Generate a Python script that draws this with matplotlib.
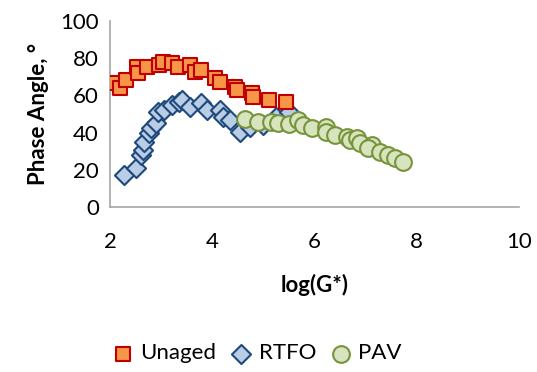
import matplotlib.pyplot as plt

# Unaged binder
unaged_x = [2.12, 2.19, 2.32, 2.53, 2.54, 2.73, 2.96, 3.03, 3.22, 3.32, 3.57,
            3.67, 3.77, 4.06, 4.15, 4.44, 4.48, 4.77, 4.80, 5.12, 5.44]
unaged_y = [66.5, 63.8, 68.3, 75.4, 71.9, 75.4, 76.3, 78.1, 77.3, 75.4, 76.3,
            72.7, 73.7, 69.2, 67.4, 64.7, 62.9, 61.1, 59.3, 57.5, 56.6]

# RTFO aged
rtfo_x = [2.28, 2.51, 2.61, 2.64, 2.67, 2.77, 2.80, 2.90, 2.93, 3.06, 3.22, 3.35,
          3.41, 3.57, 3.77, 3.90, 4.15, 4.22, 4.35, 4.54, 4.73, 4.99, 5.25, 5.51]
rtfo_y = [17.2, 20.8, 28.0, 30.6, 35.1, 39.6, 42.3, 45.0, 51.2, 52.2, 54.8, 56.6,
          57.5, 53.9, 55.8, 52.2, 52.2, 48.5, 46.8, 40.5, 43.2, 44.1, 48.5, 51.2]

# PAV aged
pav_x = [4.64, 4.90, 5.15, 5.28, 5.51, 5.67, 5.77, 5.96, 6.22, 6.22, 6.41,
         6.64, 6.70, 6.83, 6.89, 7.12, 7.05, 7.28, 7.44, 7.57, 7.73]
pav_y = [47.1, 45.9, 45.9, 45.0, 44.6, 46.8, 44.1, 42.3, 43.2, 40.5, 38.7,
         37.8, 36.0, 36.9, 34.2, 33.3, 31.5, 29.7, 28.0, 26.2, 24.4]

plt.rcParams["font.family"] = ["Lato", "DejaVu Sans"]

fig = plt.figure(figsize=(5.37, 3.72), dpi=100)
ax = fig.add_axes([0.205, 0.4435, 0.761, 0.5])

ax.scatter(unaged_x, unaged_y, marker="s", s=110, facecolor="#F79646",
           edgecolor="#C00000", linewidth=1.5, label="Unaged", zorder=3)
ax.scatter(rtfo_x, rtfo_y, marker="D", s=95, facecolor="#B9CDE5",
           edgecolor="#1F497D", linewidth=1.5, label="RTFO", zorder=2)
ax.scatter(pav_x, pav_y, marker="o", s=145, facecolor="#D7E4BD",
           edgecolor="#77933C", linewidth=1.5, label="PAV", zorder=4)

ax.set_xlim(2, 10)
ax.set_ylim(0, 100)
ax.set_xticks([2, 4, 6, 8, 10])
ax.set_yticks([0, 20, 40, 60, 80, 100])
ax.tick_params(length=0, labelsize=16, pad=8)
ax.tick_params(axis="x", pad=18)
for side in ("top", "right"):
    ax.spines[side].set_visible(False)
for side in ("left", "bottom"):
    ax.spines[side].set_color("#A6A6A6")
    ax.spines[side].set_linewidth(1.2)

ax.set_xlabel("log(G*)", fontsize=16, fontweight="bold", labelpad=16)
ax.set_ylabel("Phase Angle, °", fontsize=16, fontweight="bold", labelpad=8)

fig.legend(loc="center", bbox_to_anchor=(0.478, 0.05), ncol=3, frameon=False,
           fontsize=16, handlelength=1.0, handletextpad=0.3, columnspacing=0.6)

fig.savefig("out.png", dpi=100)
